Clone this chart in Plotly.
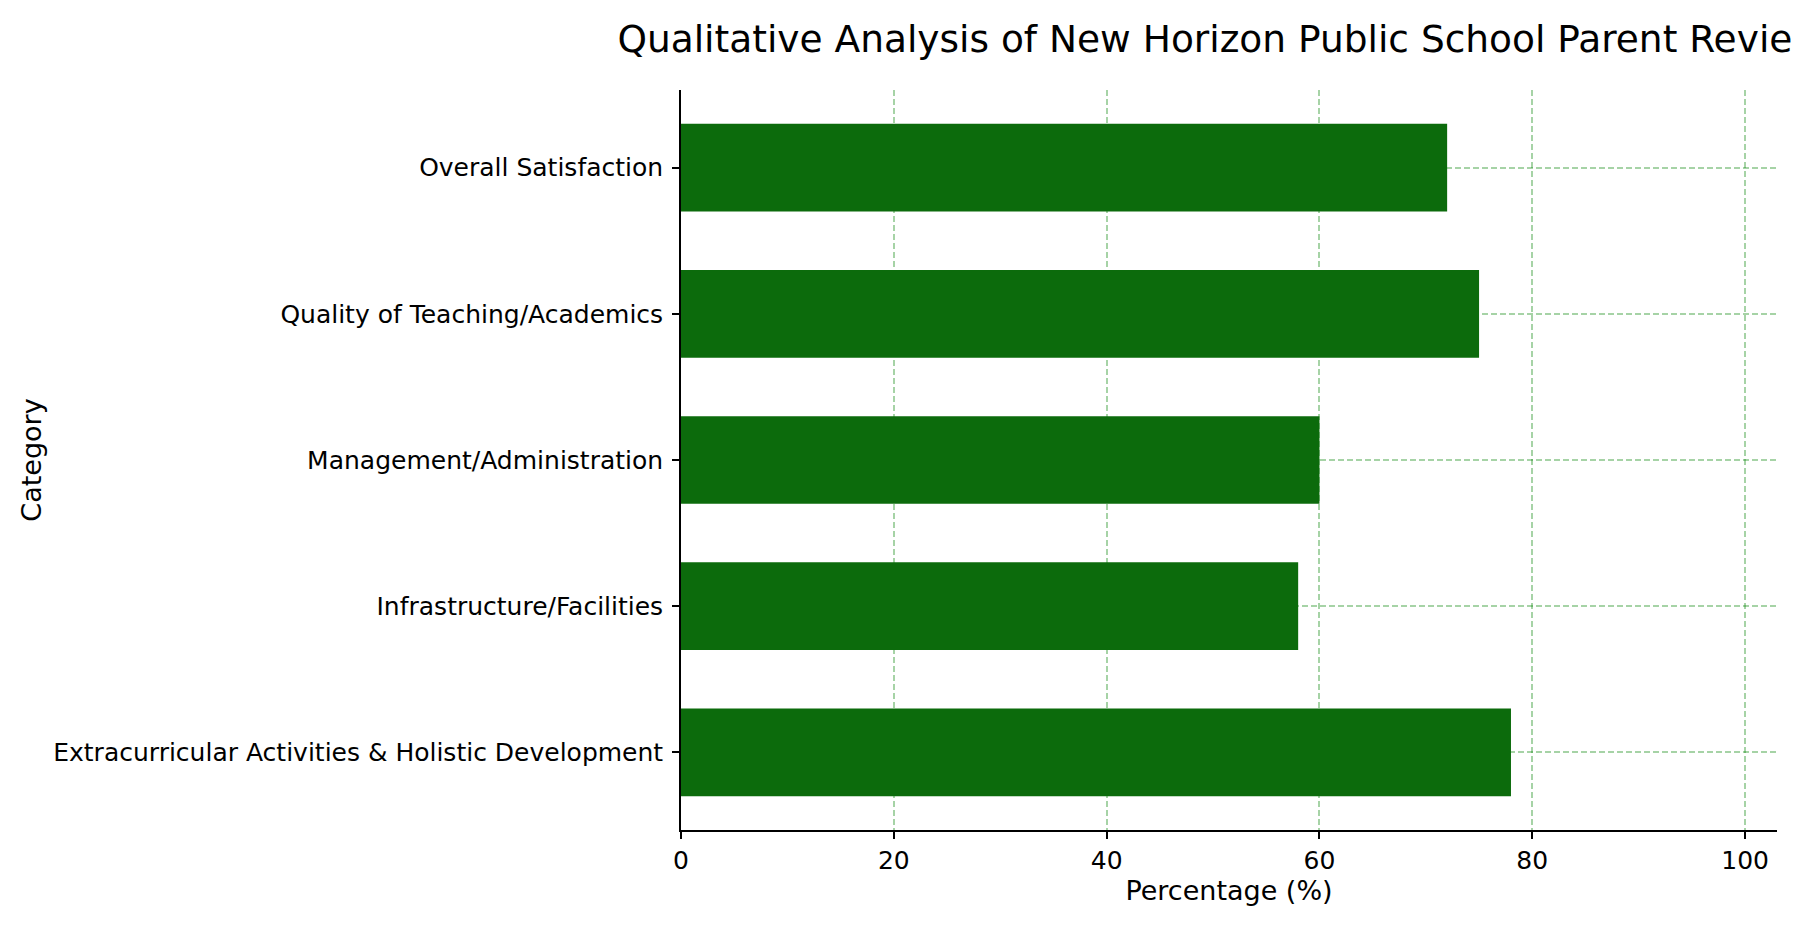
import plotly.graph_objects as go

# categories listed bottom to top, as drawn
categories = [
    "Extracurricular Activities & Holistic Development",
    "Infrastructure/Facilities",
    "Management/Administration",
    "Quality of Teaching/Academics",
    "Overall Satisfaction",
]
percentages = [78, 58, 60, 75, 72]
x_ticks = [0, 20, 40, 60, 80, 100]

font_family = "DejaVu Sans"
grid_color = "rgba(0,128,0,0.35)"

# page body adds an 8px margin, so the figure is a bit smaller than the window
fig_w, fig_h = 1792, 922

bars = go.Bar(
    x=percentages,
    y=categories,
    orientation="h",
    width=0.6,
    marker=dict(color="#0c6b0c", line=dict(width=0)),
    hoverinfo="x+y",
)

layout = go.Layout(
    width=fig_w,
    height=fig_h,
    autosize=False,
    paper_bgcolor="white",
    plot_bgcolor="white",
    margin=dict(l=673, r=23, t=82, b=100),
    font=dict(family=font_family, color="black", size=25),
    title=dict(
        text="Qualitative Analysis of New Horizon Public School Parent Reviews",
        font=dict(family=font_family, size=37.5, color="black"),
        x=1222 / fig_w,
        xanchor="center",
        xref="container",
        y=1 - 31 / fig_h,
        yanchor="middle",
        yref="container",
    ),
    xaxis=dict(
        range=[0, 103],
        tickvals=x_ticks,
        ticks="outside",
        ticklen=7,
        tickwidth=1.7,
        tickcolor="black",
        showline=True,
        linecolor="black",
        linewidth=1.7,
        mirror=False,
        showgrid=True,
        gridcolor=grid_color,
        gridwidth=1.5,
        griddash="6px,3px",
        zeroline=False,
        tickfont=dict(size=25),
        title=dict(text="Percentage (%)", font=dict(size=27), standoff=2),
    ),
    yaxis=dict(
        type="category",
        categoryorder="array",
        categoryarray=categories,
        range=[-0.53, 4.53],
        ticks="outside",
        ticklen=7,
        tickwidth=1.7,
        tickcolor="black",
        ticklabelstandoff=4,
        showline=True,
        linecolor="black",
        linewidth=1.7,
        mirror=False,
        showgrid=True,
        gridcolor=grid_color,
        gridwidth=1.5,
        griddash="6px,3px",
        zeroline=False,
        tickfont=dict(size=25),
        title=dict(text="Category", font=dict(size=27), standoff=4),
    ),
    showlegend=False,
)

fig = go.Figure(data=[bars], layout=layout)
fig.write_html("out.html")
